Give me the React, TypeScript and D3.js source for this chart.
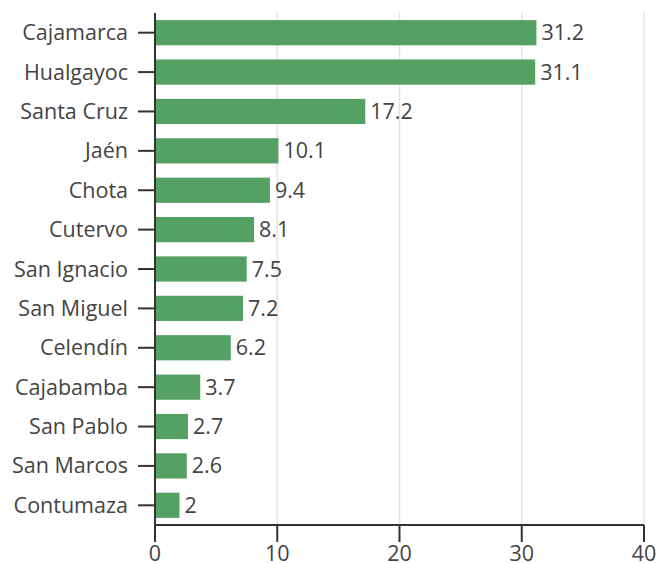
import React from "react";
import * as d3 from "d3";

const categories = ["Cajamarca","Hualgayoc","Santa Cruz","Jaén","Chota","Cutervo","San Ignacio","San Miguel","Celendín","Cajabamba","San Pablo","San Marcos","Contumaza"];
const values = [31.2,31.1,17.2,10.1,9.4,8.1,7.5,7.2,6.2,3.7,2.7,2.6,2];
const valueLabels = ["31.2","31.1","17.2","10.1","9.4","8.1","7.5","7.2","6.2","3.7","2.7","2.6","2"];
const xTicks = [0,10,20,30,40];

export default function App() {
  const W = 659, H = 563;
  const left = 155, right = 644, top = 13, bottom = 525;
  const x = d3.scaleLinear().domain([0, 40]).range([left, right]);
  const y = d3.scaleBand<string>().domain(categories).range([top, bottom]).paddingInner(0.36).paddingOuter(0.18);
  const font = "'Open Sans', sans-serif";
  const txt = "#444";
  const fs = 21.5;
  return (
    <svg width={W} height={H} style={{ position: "absolute", left: 0, top: 0, fontFamily: font }}>
      {xTicks.slice(1).map(t => (
        <line key={"g"+t} x1={x(t)} x2={x(t)} y1={top} y2={bottom} stroke="#e3e3e3" strokeWidth={1.5} />
      ))}
      {categories.map((c, i) => (
        <g key={c}>
          <rect x={x(0)} y={y(c)!} width={x(values[i]) - x(0)} height={y.bandwidth()} fill="#55a063" />
          <text x={x(values[i]) + 5} y={y(c)! + y.bandwidth() / 2} dy="0.35em" fontSize={fs} fill={txt}>{valueLabels[i]}</text>
          <line x1={left - 17} x2={left} y1={y(c)! + y.bandwidth() / 2} y2={y(c)! + y.bandwidth() / 2} stroke="#333" strokeWidth={2} />
          <text x={left - 27} y={y(c)! + y.bandwidth() / 2} dy="0.35em" fontSize={fs} fill={txt} textAnchor="end">{c}</text>
        </g>
      ))}
      <line x1={left} x2={left} y1={top} y2={bottom} stroke="#333" strokeWidth={2} />
      <line x1={left} x2={right} y1={bottom} y2={bottom} stroke="#333" strokeWidth={2} />
      {xTicks.map(t => (
        <g key={"t"+t}>
          <line x1={x(t)} x2={x(t)} y1={bottom} y2={bottom + 17} stroke="#333" strokeWidth={2} />
          <text x={x(t)} y={bottom + 36} fontSize={fs} fill={txt} textAnchor="middle">{t}</text>
        </g>
      ))}
    </svg>
  );
}
